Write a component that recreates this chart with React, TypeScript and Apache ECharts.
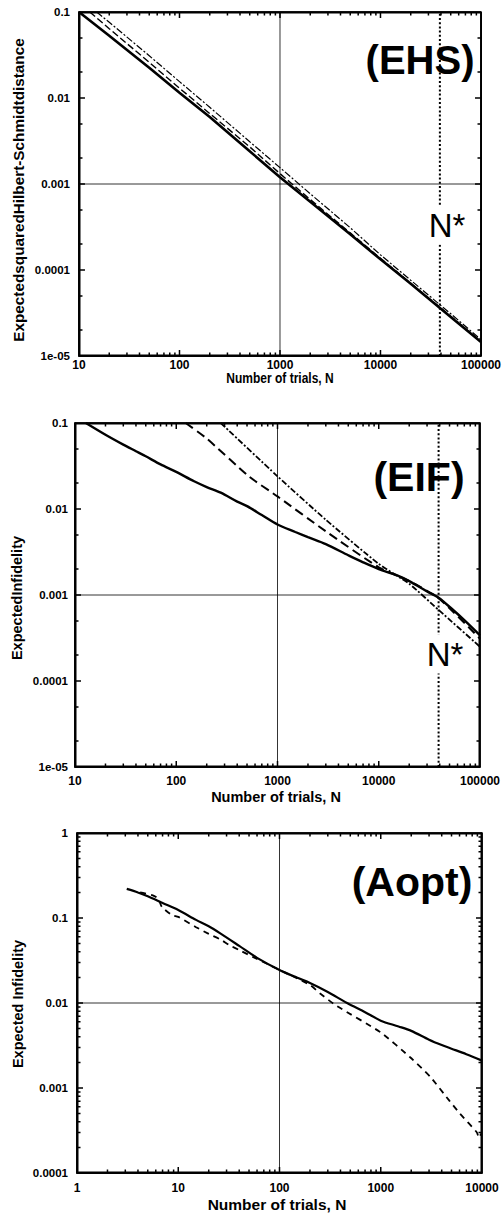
import React, { useEffect, useRef } from "react";
import * as echarts from "echarts";

// ---------- data ----------
// Panel (EHS)
const ehsSolidN = [10, 20, 50, 100, 200, 500, 1000, 2000, 5000, 10000, 20000, 50000, 100000];
const ehsSolidV = [0.1, 0.053, 0.0225, 0.0115, 0.006, 0.0024, 0.0012, 0.00062, 0.00026, 0.000133, 6.9e-5, 2.85e-5, 1.45e-5];
const ehsDashN = [12.8, 20, 50, 100, 200, 500, 1000, 2000, 5000, 10000, 20000, 50000, 100000];
const ehsDashV = [0.1, 0.064, 0.026, 0.013, 0.0066, 0.0027, 0.00132, 0.00066, 0.00027, 0.000137, 7.0e-5, 2.9e-5, 1.47e-5];
const ehsDotDashN = [15, 20, 50, 100, 200, 500, 1000, 2000, 5000, 10000, 20000, 50000, 100000];
const ehsDotDashV = [0.1, 0.076, 0.031, 0.0155, 0.0078, 0.0031, 0.00155, 0.00077, 0.00031, 0.00015, 7.6e-5, 3.1e-5, 1.55e-5];

// Panel (EIF)
const eifSolidN = [12.8, 20, 30, 40, 50, 70, 100, 150, 200, 275, 400, 500, 700, 1000, 1500, 2000, 3000, 5000, 7000, 10000, 15000, 20000, 30000, 39000, 55000, 70000, 100000];
const eifSolidV = [0.1, 0.073, 0.056, 0.047, 0.041, 0.033, 0.027, 0.021, 0.018, 0.0155, 0.0122, 0.0108, 0.0085, 0.0066, 0.0054, 0.0047, 0.0039, 0.0029, 0.0024, 0.002, 0.0017, 0.00145, 0.0011, 0.00093, 0.00066, 0.00051, 0.00034];
const eifDashN = [124, 200, 520, 1000, 3000, 10000, 20000, 39000, 100000];
const eifDashV = [0.1, 0.066, 0.024, 0.014, 0.0055, 0.0021, 0.00145, 0.00092, 0.00031];
const eifDotDashN = [275, 1000, 3000, 10000, 20000, 39000, 100000];
const eifDotDashV = [0.1, 0.024, 0.0075, 0.0023, 0.00135, 0.00067, 0.00025];

// Panel (Aopt)
const aoptSolidN = [3.1, 4, 5, 7, 10, 15, 20, 26, 40, 60, 100, 150, 200, 300, 465, 700, 1000, 1500, 2000, 3000, 4000, 5000, 7000, 10000];
const aoptSolidV = [0.22, 0.2, 0.18, 0.15, 0.124, 0.095, 0.08, 0.066, 0.047, 0.034, 0.0245, 0.0198, 0.0172, 0.0135, 0.01, 0.0078, 0.0062, 0.0053, 0.0047, 0.0037, 0.0032, 0.0029, 0.0025, 0.0021];
const aoptDashN = [4.2, 5.6, 6.3, 6.9, 8.7, 10, 15, 20, 26, 32, 40, 60, 100, 200, 250, 370, 1000, 1950, 3090, 4800, 6050, 8900, 9300, 9800];
const aoptDashV = [0.2, 0.185, 0.17, 0.135, 0.108, 0.103, 0.078, 0.065, 0.056, 0.048, 0.042, 0.033, 0.0245, 0.0163, 0.013, 0.0092, 0.0045, 0.0023, 0.00135, 0.0007, 0.0005, 0.0003, 0.00026, 0.00029];

// reference lines
const nStar = 39000;
const gridX12 = 1000;
const gridY12 = 0.001;
const gridX3 = 100;
const gridY3 = 0.01;

// axis ranges
const x12Range = [10, 100000];
const y12Range = [1e-5, 0.1];
const x3Range = [1, 10000];
const y3Range = [1e-4, 1];

// tick labels / tick multipliers
const yTickLabels = ["1", "0.1", "0.01", "0.001", "0.0001", "1e-05"];
const xMinorMult = [2, 3, 4, 5, 6, 7, 8, 9];
const yMinorMult12 = [2, 5];
const yMinorMult3 = [2, 3, 4, 5, 6, 7, 8, 9];

const FONT = "'Liberation Sans', Arial, Helvetica, sans-serif";

// panel layout (pixels)
const GRIDS = [
  { left: 79, top: 12, width: 403, height: 344 },
  { left: 75, top: 423, width: 405, height: 344 },
  { left: 77, top: 833, width: 405, height: 340 },
];

const zip = (a: number[], b: number[]) => a.map((v, i) => [v, b[i]]);

// tick values with their length (major decades 6px, minor 3.5px)
function ticks(range: number[], mults: number[]) {
  const out: number[][] = [];
  const lo = Math.round(Math.log10(range[0]));
  const hi = Math.round(Math.log10(range[1]));
  for (let e = lo; e < hi; e++) {
    if (e > lo) out.push([Math.pow(10, e), 6]);
    for (const m of mults) out.push([m * Math.pow(10, e), 3.5]);
  }
  return out.sort((a, b) => a[0] - b[0]);
}

function lineSeries(axisIndex: number, data: any[], width: number, type: any, smooth = 0, z = 3) {
  return {
    type: "line",
    xAxisIndex: axisIndex,
    yAxisIndex: axisIndex,
    data,
    symbol: "none",
    showSymbol: false,
    silent: true,
    smooth,
    clip: false,
    lineStyle: { color: "#000", width, type, join: "bevel", cap: "butt" },
    z,
  };
}

// each side of the frame is one polyline that runs along the axis and steps in at every tick
function frameSeries(axisIndex: number, xRange: number[], yRange: number[], yMults: number[], pxX: number, pxY: number) {
  const [x0, x1] = xRange;
  const [y0, y1] = yRange;
  const xt = ticks(xRange, xMinorMult);
  const yt = ticks(yRange, yMults);
  const bottom: number[][] = [[x0, y0]];
  const top: number[][] = [[x0, y1]];
  for (const [v, len] of xt) {
    const f = Math.pow(10, len / pxY);
    bottom.push([v, y0], [v, y0 * f], [v, y0]);
    top.push([v, y1], [v, y1 / f], [v, y1]);
  }
  bottom.push([x1, y0]);
  top.push([x1, y1]);
  const left: number[][] = [[x0, y0]];
  const right: number[][] = [[x1, y0]];
  for (const [v, len] of yt) {
    const f = Math.pow(10, len / pxX);
    left.push([x0, v], [x0 * f, v], [x0, v]);
    right.push([x1, v], [x1 / f, v], [x1, v]);
  }
  left.push([x0, y1]);
  right.push([x1, y1]);
  return [bottom, top, left, right].map((d) => lineSeries(axisIndex, d, 1.5, "solid", 0, 6));
}

const axisLine = { show: true, onZero: false, lineStyle: { color: "#000", width: 1.5 } };

function xAxisFor(gridIndex: number, range: number[], labelMargin: number) {
  return {
    type: "log",
    logBase: 10,
    gridIndex,
    min: range[0],
    max: range[1],
    position: "bottom",
    axisLine,
    axisTick: { show: false },
    splitLine: { show: false },
    axisLabel: {
      color: "#000",
      fontWeight: "bold",
      fontSize: 12,
      fontFamily: FONT,
      margin: labelMargin,
      formatter: (v: number) => String(Math.round(v)),
    },
  };
}

function yAxisFor(gridIndex: number, range: number[], labelMargin: number) {
  return {
    type: "log",
    logBase: 10,
    gridIndex,
    min: range[0],
    max: range[1],
    position: "left",
    axisLine,
    axisTick: { show: false },
    splitLine: { show: false },
    axisLabel: {
      color: "#000",
      fontWeight: "bold",
      fontSize: 11.5,
      fontFamily: FONT,
      margin: labelMargin,
      formatter: (v: number) => yTickLabels[-Math.round(Math.log10(v))],
    },
  };
}

function refSeries(axisIndex: number, xRange: number[], yRange: number[], gx: number, gy: number, withNStar: boolean) {
  const out: any[] = [
    lineSeries(axisIndex, [[gx, yRange[0]], [gx, yRange[1]]], 0.8, "solid", 0, 1),
    lineSeries(axisIndex, [[xRange[0], gy], [xRange[1], gy]], 0.8, "solid", 0, 1),
  ];
  if (withNStar) out.push(lineSeries(axisIndex, [[nStar, yRange[0]], [nStar, yRange[1]]], 2, [2, 2.2], 0, 2));
  return out;
}

function txt(x: number, y: number, text: string, fontSize: number, weight: string, opts: any = {}) {
  return {
    type: "text",
    x,
    y,
    z: 100,
    rotation: opts.rotation || 0,
    scaleX: opts.scaleX || 1,
    style: {
      text,
      fill: "#000",
      font: `${weight} ${fontSize}px ${FONT}`,
      textAlign: "center",
      textVerticalAlign: "middle",
      backgroundColor: opts.bg,
      padding: opts.pad,
    },
  };
}

// plot frame drawn as a rectangle just on the inside edge of each panel
function frameRect(g: { left: number; top: number; width: number; height: number }) {
  return {
    type: "rect",
    z: 90,
    silent: true,
    shape: { x: g.left + 0.75, y: g.top + 0.75, width: g.width - 1.5, height: g.height - 1.5 },
    style: { fill: "rgba(0,0,0,0)", stroke: "#000", lineWidth: 1.5 },
  };
}

export default function App() {
  const ref = useRef<HTMLDivElement>(null);
  useEffect(() => {
    document.body.style.margin = "0";
    const chart = echarts.init(ref.current!, undefined, { renderer: "svg" });
    const option: any = {
      animation: false,
      backgroundColor: "#fff",
      grid: GRIDS.map((g) => ({ ...g, show: true, borderColor: "#000", borderWidth: 1.5, backgroundColor: "transparent" })),
      xAxis: [xAxisFor(0, x12Range, 3), xAxisFor(1, x12Range, 8), xAxisFor(2, x3Range, 9)],
      yAxis: [yAxisFor(0, y12Range, 9), yAxisFor(1, y12Range, 7), yAxisFor(2, y3Range, 9)],
      series: [
        // EHS
        ...refSeries(0, x12Range, y12Range, gridX12, gridY12, true),
        lineSeries(0, zip(ehsSolidN, ehsSolidV), 2.6, "solid"),
        lineSeries(0, zip(ehsDashN, ehsDashV), 1.4, [7, 3]),
        lineSeries(0, zip(ehsDotDashN, ehsDotDashV), 1.2, [7, 2, 2, 2]),
        ...frameSeries(0, x12Range, y12Range, yMinorMult12, 101, 86),
        // EIF
        ...refSeries(1, x12Range, y12Range, gridX12, gridY12, true),
        lineSeries(1, zip(eifSolidN, eifSolidV), 2.4, "solid", 0.3),
        lineSeries(1, zip(eifDashN, eifDashV), 2, [9, 5], 0.2),
        lineSeries(1, zip(eifDotDashN, eifDotDashV), 1.8, [6, 2, 2, 2], 0.2),
        ...frameSeries(1, x12Range, y12Range, yMinorMult12, 101, 86),
        // Aopt
        ...refSeries(2, x3Range, y3Range, gridX3, gridY3, false),
        lineSeries(2, zip(aoptSolidN, aoptSolidV), 2.2, "solid", 0.3),
        lineSeries(2, zip(aoptDashN, aoptDashV), 1.8, [6, 5], 0.2),
        ...frameSeries(2, x3Range, y3Range, yMinorMult3, 101, 85),
      ],
      graphic: [
        ...GRIDS.map(frameRect),
        txt(420, 60, "(EHS)", 40, "bold"),
        txt(447, 225, "N*", 33, "normal", { bg: "#fff", pad: [3, 0] }),
        txt(280, 378, "Number of trials, N", 15, "bold", { scaleX: 0.8 }),
        txt(18, 190, "ExpectedsquaredHilbert-Schmidtdistance", 15.3, "bold", { rotation: Math.PI / 2 }),

        txt(419, 477, "(EIF)", 41, "bold"),
        txt(445, 654, "N*", 33, "normal", { bg: "#fff", pad: [3, 0] }),
        txt(276, 797, "Number of trials, N", 14.5, "bold"),
        txt(17, 598, "ExpectedInfidelity", 14.5, "bold", { rotation: Math.PI / 2 }),

        txt(412, 882, "(Aopt)", 41, "bold"),
        txt(277, 1204, "Number of trials, N", 15.5, "bold"),
        txt(18, 1004, "Expected Infidelity", 14.5, "bold", { rotation: Math.PI / 2 }),
      ],
    };
    chart.setOption(option);
    return () => chart.dispose();
  }, []);
  return <div ref={ref} style={{ width: 504, height: 1213 }} />;
}
